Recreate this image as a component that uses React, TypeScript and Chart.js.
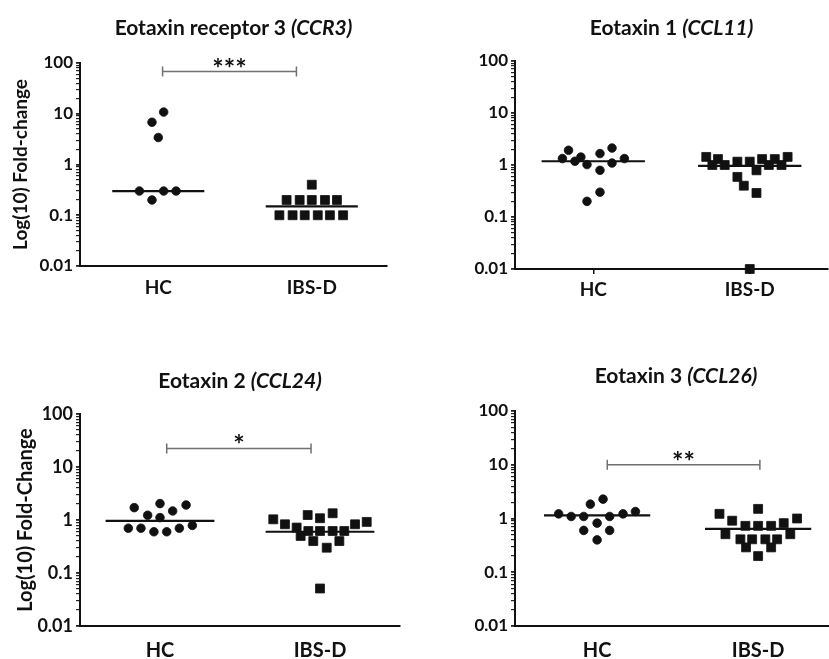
import React, { useEffect, useRef } from "react";
import { Chart, registerables } from "chart.js";

Chart.register(...registerables);

// ---------- data ----------
const categories = ["HC", "IBS-D"];
const yMajorTicks = [0.01, 0.1, 1, 10, 100];
const yMajorLabels = ["0.01", "0.1", "1", "10", "100"];

// Panel 1: Eotaxin receptor 3 (CCR3)
const ccr3HC = [10.8, 6.8, 3.4, 0.3, 0.3, 0.3, 0.2];
const ccr3HCJitter = [0.035, -0.041, 0, -0.123, 0.035, 0.116, -0.041];
const ccr3IBS = [0.4, 0.2, 0.2, 0.2, 0.2, 0.2, 0.1, 0.1, 0.1, 0.1, 0.1, 0.1];
const ccr3IBSJitter = [0, -0.164, -0.079, 0, 0.086, 0.164, -0.211, -0.125, -0.046, 0.039, 0.118, 0.204];
const ccr3Medians = [0.3, 0.15];

// Panel 2: Eotaxin 1 (CCL11)
const ccl11HC = [1.33, 1.92, 1.18, 1.42, 1.02, 1.66, 0.79, 2.12, 1.09, 1.33, 0.2, 0.3];
const ccl11HCJitter = [-0.197, -0.158, -0.117, -0.079, -0.04, 0.043, 0.043, 0.12, 0.12, 0.199, -0.04, 0.043];
const ccl11IBS = [1.43, 1.3, 1.0, 1.0, 1.16, 1.16, 0.79, 1.3, 1.0, 1.3, 1.0, 1.43, 0.59, 0.4, 0.29, 0.01];
const ccl11IBSJitter = [-0.278, -0.203, -0.239, -0.16, -0.079, 0, 0.043, 0.079, 0.122, 0.16, 0.203, 0.242, -0.079, -0.038, 0.043, 0];
const ccl11Medians = [1.18, 0.96];

// Panel 3: Eotaxin 2 (CCL24)
const ccl24HC = [1.71, 1.23, 2.04, 1.11, 1.48, 1.92, 0.7, 0.7, 0.6, 0.6, 0.7, 0.79];
const ccl24HCJitter = [-0.161, -0.077, 0, 0, 0.079, 0.163, -0.198, -0.119, -0.038, 0.042, 0.121, 0.202];
const ccl24IBS = [1.03, 0.83, 0.72, 0.5, 1.24, 0.62, 0.4, 1.08, 0.62, 0.3, 1.34, 0.62, 0.4, 0.62, 0.83, 0.92, 0.051];
const ccl24IBSJitter = [-0.292, -0.219, -0.146, -0.121, -0.077, -0.073, -0.042, 0, 0, 0.042, 0.079, 0.079, 0.121, 0.152, 0.219, 0.292, 0];
const ccl24Medians = [0.96, 0.6];

// Panel 4: Eotaxin 3 (CCL26)
const ccl26HC = [1.22, 1.09, 1.09, 1.85, 2.29, 0.82, 1.09, 1.22, 1.35, 0.6, 0.6, 0.4];
const ccl26HCJitter = [-0.239, -0.161, -0.083, -0.042, 0.037, 0, 0.078, 0.161, 0.238, -0.083, 0.078, 0];
const ccl26IBS = [1.22, 0.91, 0.51, 0.73, 0.41, 0.41, 0.29, 1.51, 0.73, 0.2, 0.73, 0.41, 0.41, 0.29, 0.82, 0.51, 1.0];
const ccl26IBSJitter = [-0.24, -0.161, -0.203, -0.079, -0.11, -0.037, -0.075, 0, 0, 0, 0.081, 0.045, 0.118, 0.081, 0.159, 0.2, 0.242];
const ccl26Medians = [1.14, 0.64];

// ---------- styling / layout ----------
const FONT = "Lato, 'Open Sans', sans-serif";
const BLACK = "#111111";

type PanelCfg = {
  title: string;
  titleItalic: string;
  titleX: number;
  titleY: number;
  canvasLeft: number;
  canvasTop: number;
  width: number;
  height: number;
  yAxisWidth: number;
  xAxisHeight: number;
  padTop: number;
  padRight: number;
  yTitle: string;
  yTitlePad: number;
  yTitleFont: number;
  xTickShow: boolean;
  xLabelPad: number;
  xFont: number;
  yFont: number;
  xMin: number;
  xMax: number;
  hc: number[];
  hcJ: number[];
  ibs: number[];
  ibsJ: number[];
  medians: number[];
  medianHalf: number;
  bracket: null | { from: number; to: number; level: number; stars: string };
};

const panels: PanelCfg[] = [
  {
    title: "Eotaxin receptor 3 ", titleItalic: "(CCR3)", titleX: 233.5, titleY: 27,
    canvasLeft: 0, canvasTop: 23, width: 395, height: 288, yAxisWidth: 80, xAxisHeight: 45,
    padTop: 40, padRight: 8, yTitle: "Log(10) Fold-change", yTitlePad: 9, yTitleFont: 19,
    xTickShow: false, xLabelPad: 5, xFont: 19, yFont: 17, xMin: 0.49, xMax: 2.49,
    hc: ccr3HC, hcJ: ccr3HCJitter, ibs: ccr3IBS, ibsJ: ccr3IBSJitter, medians: ccr3Medians, medianHalf: 0.3,
    bracket: { from: 1.028, to: 1.9, level: 68, stars: "***" },
  },
  {
    title: "Eotaxin 1 ", titleItalic: "(CCL11)", titleX: 671.5, titleY: 27,
    canvasLeft: 415, canvasTop: 21, width: 421, height: 293, yAxisWidth: 100, xAxisHeight: 45,
    padTop: 40, padRight: 8, yTitle: "", yTitlePad: 0, yTitleFont: 19,
    xTickShow: true, xLabelPad: 4, xFont: 19, yFont: 17, xMin: 0.5, xMax: 2.5,
    hc: ccl11HC, hcJ: ccl11HCJitter, ibs: ccl11IBS, ibsJ: ccl11IBSJitter, medians: ccl11Medians, medianHalf: 0.33,
    bracket: null,
  },
  {
    title: "Eotaxin 2 ", titleItalic: "(CCL24)", titleX: 240, titleY: 380,
    canvasLeft: 0, canvasTop: 374, width: 408, height: 297, yAxisWidth: 80, xAxisHeight: 45,
    padTop: 40, padRight: 8, yTitle: "Log(10) Fold-Change", yTitlePad: 14, yTitleFont: 20,
    xTickShow: false, xLabelPad: 8, xFont: 20, yFont: 18, xMin: 0.5, xMax: 2.5,
    hc: ccl24HC, hcJ: ccl24HCJitter, ibs: ccl24IBS, ibsJ: ccl24IBSJitter, medians: ccl24Medians, medianHalf: 0.34,
    bracket: { from: 1.042, to: 1.944, level: 22.4, stars: "*" },
  },
  {
    title: "Eotaxin 3 ", titleItalic: "(CCL26)", titleX: 676, titleY: 375,
    canvasLeft: 415, canvasTop: 371, width: 430, height: 300, yAxisWidth: 100, xAxisHeight: 45,
    padTop: 40, padRight: 8, yTitle: "", yTitlePad: 0, yTitleFont: 19,
    xTickShow: false, xLabelPad: 8, xFont: 20, yFont: 17, xMin: 0.49, xMax: 2.49,
    hc: ccl26HC, hcJ: ccl26HCJitter, ibs: ccl26IBS, ibsJ: ccl26IBSJitter, medians: ccl26Medians, medianHalf: 0.33,
    bracket: { from: 1.063, to: 2.011, level: 10, stars: "**" },
  },
];

const bracketPlugin = {
  id: "sigBracket",
  afterDatasetsDraw(chart: any, _args: any, opts: any) {
    if (!opts || !opts.stars) return;
    const { ctx } = chart;
    const x = chart.scales.x;
    const y = chart.scales.y;
    const x1 = x.getPixelForValue(opts.from);
    const x2 = x.getPixelForValue(opts.to);
    const yy = y.getPixelForValue(opts.level);
    ctx.save();
    ctx.strokeStyle = "#707070";
    ctx.lineWidth = 1.5;
    ctx.beginPath();
    ctx.moveTo(x1, yy);
    ctx.lineTo(x2, yy);
    ctx.moveTo(x1, yy - 5);
    ctx.lineTo(x1, yy + 5);
    ctx.moveTo(x2, yy - 5);
    ctx.lineTo(x2, yy + 5);
    ctx.stroke();
    ctx.fillStyle = BLACK;
    ctx.font = `bold 27px ${FONT}`;
    ctx.textAlign = "center";
    ctx.textBaseline = "alphabetic";
    ctx.fillText(opts.stars, (x1 + x2) / 2, yy + 6);
    ctx.restore();
  },
};

function buildLogTicks(): number[] {
  const out: number[] = [];
  for (let d = 0; d < yMajorTicks.length - 1; d++) {
    for (let m = 1; m < 10; m++) out.push(+(yMajorTicks[d] * m).toPrecision(3));
  }
  out.push(yMajorTicks[yMajorTicks.length - 1]);
  return out;
}

function majorLabel(v: number): string {
  for (let i = 0; i < yMajorTicks.length; i++) {
    if (Math.abs(v - yMajorTicks[i]) / yMajorTicks[i] < 1e-6) return yMajorLabels[i];
  }
  return "";
}

function Panel({ cfg }: { cfg: PanelCfg }) {
  const ref = useRef<HTMLCanvasElement | null>(null);
  useEffect(() => {
    if (!ref.current) return;
    const pts = (vals: number[], jit: number[], g: number) =>
      vals.map((v, i) => ({ x: g + jit[i], y: v }));
    const medLine = (g: number) => [
      { x: g + 1 - cfg.medianHalf, y: cfg.medians[g] },
      { x: g + 1 + cfg.medianHalf, y: cfg.medians[g] },
    ];
    const chart = new Chart(ref.current, {
      type: "scatter",
      data: {
        datasets: [
          {
            data: medLine(0), showLine: true, borderColor: BLACK, borderWidth: 2.2,
            pointRadius: 0, clip: false,
          } as any,
          {
            data: medLine(1), showLine: true, borderColor: BLACK, borderWidth: 2.2,
            pointRadius: 0, clip: false,
          } as any,
          {
            label: categories[0], data: pts(cfg.hc, cfg.hcJ, 1), pointStyle: "circle",
            pointRadius: 4.3, backgroundColor: BLACK, borderColor: BLACK, borderWidth: 0.8, clip: false,
          } as any,
          {
            label: categories[1], data: pts(cfg.ibs, cfg.ibsJ, 2), pointStyle: "rect",
            pointRadius: 6.3, backgroundColor: BLACK, borderColor: BLACK, borderWidth: 0.8, clip: false,
          } as any,
        ],
      },
      options: {
        responsive: false,
        animation: false,
        events: [],
        layout: { padding: { top: cfg.padTop, right: cfg.padRight, left: 0, bottom: 0 } },
        plugins: {
          legend: { display: false },
          tooltip: { enabled: false },
          sigBracket: cfg.bracket || {},
        } as any,
        scales: {
          x: {
            type: "linear",
            min: cfg.xMin,
            max: cfg.xMax,
            afterBuildTicks: (s: any) => {
              s.ticks = categories.map((_, i) => ({ value: i + 1 }));
            },
            afterFit: (s: any) => {
              s.height = cfg.xAxisHeight;
            },
            ticks: {
              autoSkip: false,
              maxRotation: 0,
              padding: cfg.xLabelPad,
              color: BLACK,
              font: { family: FONT, weight: "bold", size: cfg.xFont },
              callback: (v: any) => categories[Math.round(Number(v)) - 1] ?? "",
            },
            grid: {
              display: cfg.xTickShow,
              drawOnChartArea: false,
              drawTicks: true,
              tickLength: 5,
              tickColor: BLACK,
              lineWidth: 1.5,
            },
            border: { display: true, color: BLACK, width: 2 },
          },
          y: {
            type: "logarithmic",
            min: yMajorTicks[0],
            max: yMajorTicks[yMajorTicks.length - 1],
            afterBuildTicks: (s: any) => {
              s.ticks = buildLogTicks().map((v) => ({ value: v, major: majorLabel(v) !== "" }));
            },
            afterFit: (s: any) => {
              s.width = cfg.yAxisWidth;
            },
            ticks: {
              autoSkip: false,
              padding: 3,
              color: BLACK,
              font: { family: FONT, weight: "bold", size: cfg.yFont },
              callback: (v: any) => majorLabel(Number(v)),
            },
            grid: {
              display: true,
              drawOnChartArea: false,
              drawTicks: true,
              tickLength: 4,
              tickColor: "#222222",
              lineWidth: (c: any) => (c.tick && majorLabel(c.tick.value) ? 1.8 : 1.2),
            },
            border: { display: true, color: BLACK, width: 2 },
            title: {
              display: cfg.yTitle !== "",
              text: cfg.yTitle,
              color: BLACK,
              font: { family: FONT, weight: "bold", size: cfg.yTitleFont },
              padding: { top: cfg.yTitlePad, bottom: 0 },
            },
          },
        },
      },
      plugins: [bracketPlugin as any],
    });
    return () => chart.destroy();
  }, [cfg]);

  return (
    <>
      <canvas
        ref={ref}
        width={cfg.width}
        height={cfg.height}
        style={{
          position: "absolute",
          left: cfg.canvasLeft,
          top: cfg.canvasTop,
          width: cfg.width,
          height: cfg.height,
        }}
      />
      <div
        style={{
          position: "absolute",
          left: cfg.titleX - 200,
          top: cfg.titleY - 12,
          width: 400,
          textAlign: "center",
          fontFamily: FONT,
          fontWeight: "bold",
          fontSize: 21,
          lineHeight: "24px",
          color: BLACK,
          whiteSpace: "nowrap",
        }}
      >
        {cfg.title}
        <i>{cfg.titleItalic}</i>
      </div>
    </>
  );
}

export default function App() {
  return (
    <div
      style={{
        position: "fixed",
        left: 0,
        top: 0,
        width: 829,
        height: 659,
        overflow: "hidden",
        background: "#ffffff",
      }}
    >
      {panels.map((p, i) => (
        <Panel key={i} cfg={p} />
      ))}
    </div>
  );
}
